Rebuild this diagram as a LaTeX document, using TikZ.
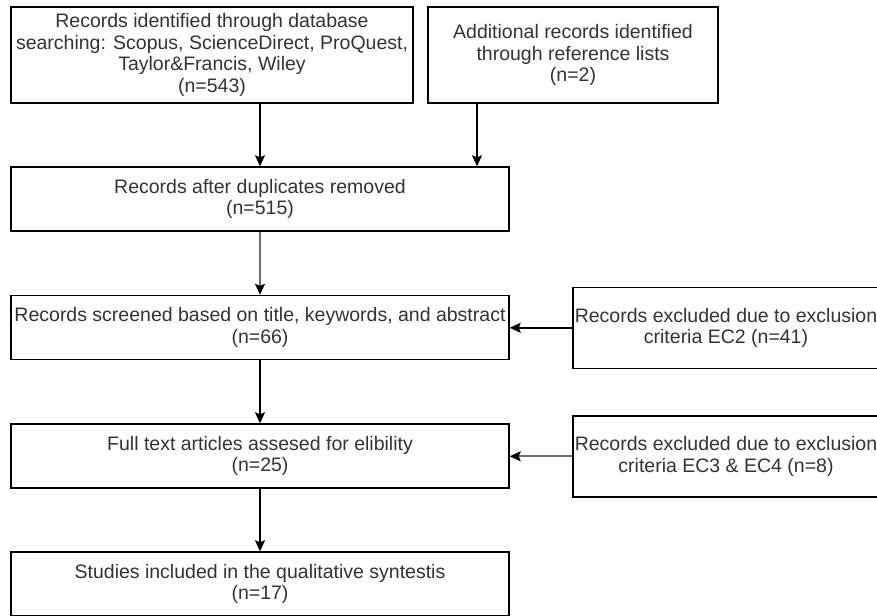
\documentclass[tikz,border=0pt]{standalone}
\usepackage{fontspec}
\setmainfont{Liberation Sans}
\usetikzlibrary{arrows.meta}
\definecolor{txt}{HTML}{333333}
\definecolor{grayline}{HTML}{6E6E6E}
\begin{document}
\begin{tikzpicture}[x=1pt,y=-1pt,
  box/.style={draw=black,line width=1.4pt,fill=white,rectangle,inner sep=0pt,
    align=center,text=txt,font=\fontsize{19.5}{21.6}\selectfont},
  arr/.style={draw=black,line width=1.4pt,-{Stealth[length=11pt,width=10pt,inset=2pt]}},
  garr/.style={draw=grayline,line width=1.8pt,-{Stealth[length=11pt,width=10pt,inset=2pt,color=black]}}]
\useasboundingbox (0,0) rectangle (877,615);
\begin{scope}
\clip (0,0) rectangle (877,615);
\node[box,minimum width=402,minimum height=96] (b1) at (212,55)
  {Records identified through database\\searching: Scopus, ScienceDirect, ProQuest,\\Taylor\&Francis, Wiley\\(n=543)};
\node[box,minimum width=290,minimum height=96] (b2) at (573,55)
  {Additional records identified\\through reference lists\\(n=2)};
\node[box,minimum width=498,minimum height=64] (b3) at (260,199)
  {Records after duplicates removed\\(n=515)};
\node[box,minimum width=498,minimum height=64] (b4) at (260,327.5)
  {Records screened based on title, keywords, and abstract\\(n=66)};
\node[box,minimum width=306,minimum height=81] (e2) at (726,327.8)
  {Records excluded due to exclusion\\criteria EC2 (n=41)};
\node[box,minimum width=498,minimum height=64] (b6) at (260,456)
  {Full text articles assesed for elibility\\(n=25)};
\node[box,minimum width=306,minimum height=81] (e3) at (726,456.3)
  {Records excluded due to exclusion\\criteria EC3 \& EC4 (n=8)};
\node[box,minimum width=498,minimum height=64] (b7) at (260,584)
  {Studies included in the qualitative syntestis\\(n=17)};
\coordinate (p2) at (477,167);
\draw[arr] (b1.south -| b3.north) -- (b3.north);
\draw[arr] (b2.south -| p2) -- (b3.north -| p2);
\draw[garr] (b3.south) -- (b4.north);
\draw[arr] (e2.west) -- (e2.west -| b4.east);
\draw[arr] (b4.south) -- (b6.north);
\draw[garr] (e3.west) -- (e3.west -| b6.east);
\draw[arr] (b6.south) -- (b7.north);
\end{scope}
\end{tikzpicture}
\end{document}
